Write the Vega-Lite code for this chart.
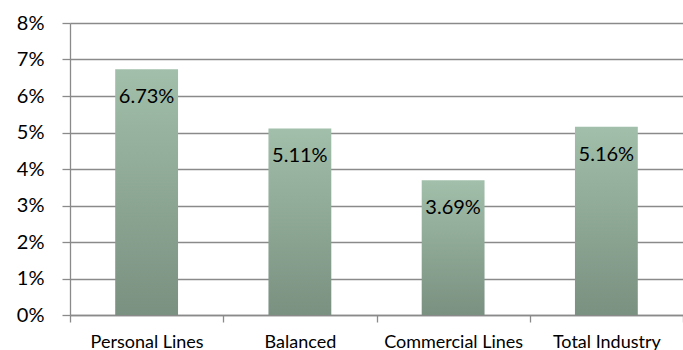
{
  "$schema": "https://vega.github.io/schema/vega-lite/v6.json",
  "width": 613,
  "height": 292,
  "autosize": {"type": "none"},
  "padding": {"left": 70, "top": 23, "right": 0, "bottom": 35},
  "background": "white",
  "config": {"view": {"stroke": null}, "font": "Lato"},
  "data": {"values": [
    {"segment": "Personal Lines", "value": 0.0673},
    {"segment": "Balanced", "value": 0.0511},
    {"segment": "Commercial Lines", "value": 0.0369},
    {"segment": "Total Industry", "value": 0.0516}
  ]},
  "encoding": {
    "x": {"field": "segment", "type": "nominal", "sort": null,
      "scale": {"paddingInner": 0, "paddingOuter": 0},
      "axis": {"title": null, "labelAngle": 0, "tickBand": "extent", "domainColor": "#8a8a8a", "tickColor": "#8a8a8a", "tickSize": 7, "domainWidth": 1.3, "tickWidth": 1.3, "labelFontSize": 18, "labelColor": "#000000", "labelPadding": 11, "labelFont": "Lato"}},
    "y": {"field": "value", "type": "quantitative",
      "scale": {"domain": [0, 0.08], "nice": false},
      "axis": {"title": null, "format": ".0%", "values": [0, 0.01, 0.02, 0.03, 0.04, 0.05, 0.06, 0.07, 0.08], "grid": true, "gridColor": "#8a8a8a", "gridWidth": 1.3, "domainColor": "#8a8a8a", "domainWidth": 1.3, "tickColor": "#8a8a8a", "tickSize": 8, "tickWidth": 1.3, "labelFontSize": 20, "labelColor": "#000000", "labelPadding": 18, "labelFont": "Lato"}}
  },
  "layer": [
    {"mark": {"type": "bar", "width": {"band": 0.41},
      "color": {"gradient": "linear", "x1": 0, "y1": 0, "x2": 0, "y2": 1,
        "stops": [{"offset": 0, "color": "#a1bfaa"}, {"offset": 1, "color": "#7a9080"}]}}},
    {"mark": {"type": "text", "baseline": "middle", "dy": 28, "fontSize": 20, "color": "#000000", "font": "Lato"},
      "encoding": {"text": {"field": "value", "type": "quantitative", "format": ".2%"}}}
  ]
}
